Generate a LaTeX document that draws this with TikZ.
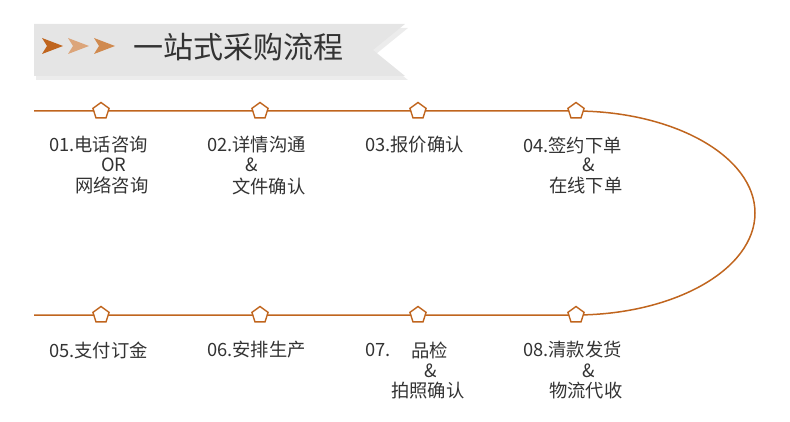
\documentclass[tikz,border=0pt]{standalone}
\usepackage{fontspec}
\setmainfont{Noto Sans CJK SC}
\definecolor{org}{HTML}{C0651E}
\definecolor{org2}{HTML}{DCA57A}
\definecolor{org3}{HTML}{D08A4F}
\definecolor{txt}{HTML}{333333}
\usetikzlibrary{shapes.geometric}
\begin{document}
\begin{tikzpicture}[x=1pt,y=-1pt,
 pent/.style={regular polygon,regular polygon sides=5,draw=org,fill=white,line width=1.4pt,minimum size=17pt,inner sep=0pt},
 lbl/.style={anchor=west,text=txt,font=\fontsize{18.3}{20}\selectfont,inner sep=0pt}]
\useasboundingbox (0,0) rectangle (790,422);
\fill[black!12,opacity=0.6] (36,28) -- (408,28) -- (376,54) -- (408,80) -- (36,80) -- cycle;
\fill[black!10] (34,24) -- (405,24) -- (373,50) -- (405,76) -- (34,76) -- cycle;
\fill[org] (42,38) -- (63,46) -- (42,54) -- (47,46) -- cycle;
\fill[org2] (68,38) -- (89,46) -- (68,54) -- (73,46) -- cycle;
\fill[org3] (94,38) -- (115,46) -- (94,54) -- (99,46) -- cycle;
\node[anchor=west,inner sep=0pt,text=black!80,font=\fontsize{30}{32}\selectfont] (title) at (133,47) {一站式采购流程};
\coordinate (s1) at (34,111);
\coordinate (e1) at (575,111);
\coordinate (s2) at (34,315);
\draw[org,line width=1.5pt] (s1) -- (e1) arc[start angle=-90,end angle=90,x radius=180,y radius=102] -- (s2);
\foreach \x/\n in {101/a,260/b,418/c,576/d}{
 \node[pent] (p\n) at (\x,111) {};
 \node[pent] (q\n) at (\x,315) {};}
\node[lbl] (t1a) at (49,145) {01.电话咨询};
\node[lbl] (t1b) at (101,165) {OR};
\node[lbl] (t1c) at (75,186) {网络咨询};
\node[lbl] (t2a) at (207,145) {02.详情沟通};
\node[lbl] (t2b) at (245,165) {\&};
\node[lbl] (t2c) at (232,186) {文件确认};
\node[lbl] (t3a) at (365,145) {03.报价确认};
\node[lbl] (t4a) at (523,145) {04.签约下单};
\node[lbl] (t4b) at (582,165) {\&};
\node[lbl] (t4c) at (549,186) {在线下单};
\node[lbl] (t5a) at (49,350) {05.支付订金};
\node[lbl] (t6a) at (207,350) {06.安排生产};
\node[lbl] (t7a) at (365,350) {07.};
\node[lbl] (t7b) at (411,350) {品检};
\node[lbl] (t7c) at (424,371) {\&};
\node[lbl] (t7d) at (391,391) {拍照确认};
\node[lbl] (t8a) at (523,350) {08.清款发货};
\node[lbl] (t8b) at (582,371) {\&};
\node[lbl] (t8c) at (549,391) {物流代收};
\end{tikzpicture}
\end{document}
